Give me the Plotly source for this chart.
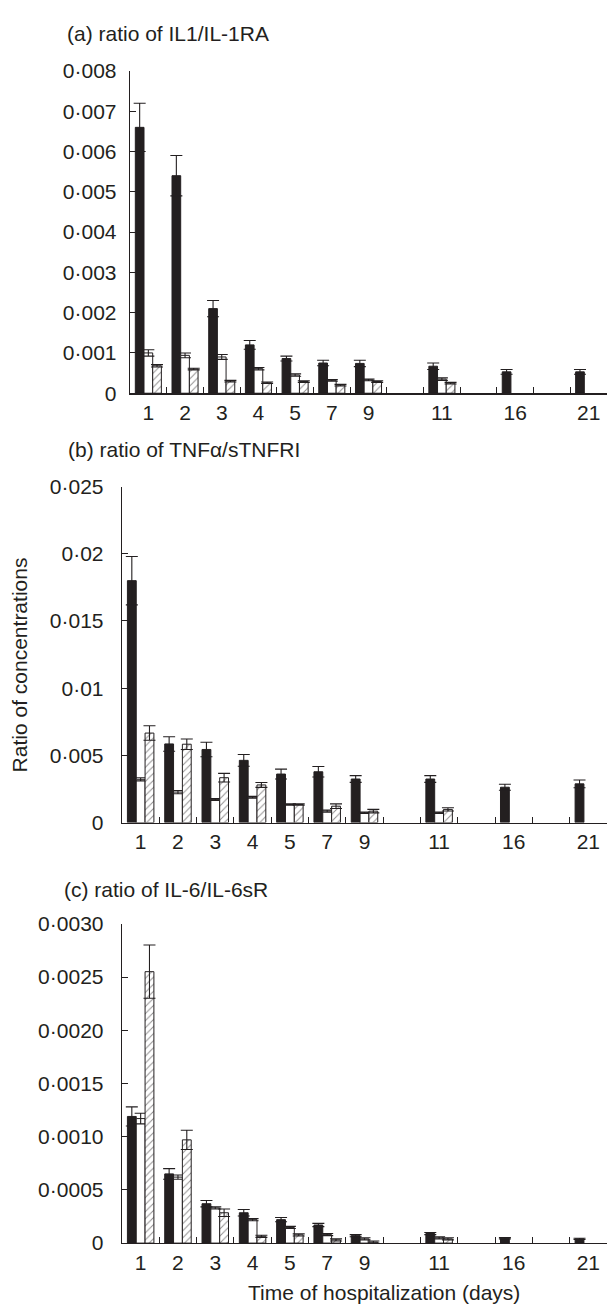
import plotly.graph_objects as go

# ---------------- data ----------------
days = ["1", "2", "3", "4", "5", "7", "9", "11", "16", "21"]
category_order = ["1", "2", "3", "4", "5", "7", "9", " ", "11", "  ", "16", "   ", "21"]

panel_titles = ["(a) ratio of IL1/IL-1RA", "(b) ratio of TNF\u03b1/sTNFRI", "(c) ratio of IL-6/IL-6sR"]

# (a) IL1 / IL-1RA
a_black = [0.0066, 0.0054, 0.0021, 0.0012, 0.00086, 0.00075, 0.00074, 0.00067, 0.00053, 0.00053]
a_black_err = [0.0006, 0.0005, 0.0002, 0.00011, 0.00006, 0.00007, 0.00008, 0.00008, 0.00006, 0.00006]
a_white = [0.0010, 0.00094, 0.00090, 0.00061, 0.00045, 0.00032, 0.00033, 0.00035, None, None]
a_white_err = [0.00008, 0.00006, 0.00006, 0.00003, 0.00003, 0.00002, 0.00002, 0.00003, None, None]
a_hatch = [0.00068, 0.00060, 0.00030, 0.00026, 0.00029, 0.00020, 0.00029, 0.00025, None, None]
a_hatch_err = [0.00003, 0.00002, 0.00002, 0.00002, 0.00002, 0.00002, 0.00002, 0.00002, None, None]

# (b) TNFa / sTNFRI
b_black = [0.0180, 0.00585, 0.00544, 0.00463, 0.00361, 0.00378, 0.00324, 0.00324, 0.00263, 0.00288]
b_black_err = [0.0018, 0.00054, 0.00054, 0.00044, 0.00037, 0.00039, 0.00025, 0.00025, 0.00022, 0.00029]
b_white = [0.00322, 0.00227, 0.00171, 0.00188, 0.00134, 0.00085, 0.00073, 0.00073, None, None]
b_white_err = [0.00012, 0.00012, 0.00007, 0.00007, 0.00005, 0.00008, 0.00005, 0.00005, None, None]
b_hatch = [0.00666, 0.00583, 0.00334, 0.00280, 0.00134, 0.00122, 0.00085, 0.00098, None, None]
b_hatch_err = [0.00054, 0.00039, 0.00032, 0.00018, 0.00005, 0.00017, 0.00013, 0.00012, None, None]

# (c) IL-6 / IL-6sR
c_black = [0.00119, 0.00065, 0.00037, 0.000285, 0.00022, 0.00017, 0.00007, 0.00009, 0.000046, 0.00004]
c_black_err = [0.00009, 0.00005, 0.00003, 0.00003, 0.00002, 0.000015, 0.00001, 0.00001, 0.000006, 0.000006]
c_white = [0.00117, 0.00062, 0.00033, 0.00022, 0.000147, 0.00008, 0.00004, 0.00005, None, None]
c_white_err = [0.00005, 0.00002, 0.00001, 0.00001, 0.00001, 0.00001, 0.00001, 0.00001, None, None]
c_hatch = [0.00255, 0.00097, 0.000285, 0.000064, 0.000077, 0.00003, 0.00001, 0.00004, None, None]
c_hatch_err = [0.00025, 0.00009, 0.000035, 0.00001, 0.00001, 0.00001, 0.00001, 0.00001, None, None]

a_ticks = [0, 0.001, 0.002, 0.003, 0.004, 0.005, 0.006, 0.007, 0.008]
a_ticktext = ["0", "0\u00b7001", "0\u00b7002", "0\u00b7003", "0\u00b7004", "0\u00b7005", "0\u00b7006", "0\u00b7007", "0\u00b7008"]
b_ticks = [0, 0.005, 0.01, 0.015, 0.02, 0.025]
b_ticktext = ["0", "0\u00b7005", "0\u00b701", "0\u00b7015", "0\u00b702", "0\u00b7025"]
c_ticks = [0, 0.0005, 0.0010, 0.0015, 0.0020, 0.0025, 0.0030]
c_ticktext = ["0", "0\u00b70005", "0\u00b70010", "0\u00b70015", "0\u00b70020", "0\u00b70025", "0\u00b70030"]

y_title = "Ratio of concentrations"
x_title = "Time of hospitalization (days)"

# ---------------- styling ----------------
W, H = 607, 1316
INK = "#231f20"
FONT = "Liberation Sans, Arial, Helvetica, sans-serif"
FS = 21

def px_x(p):
    return p / W

def px_y(p):
    return 1 - p / H

panels = [
    dict(black=a_black, black_err=a_black_err, white=a_white, white_err=a_white_err,
         hatch=a_hatch, hatch_err=a_hatch_err, ticks=a_ticks, ticktext=a_ticktext,
         yrange=[0, 0.008], ytop=60, ybot=388, xleft=130, standoff=8),
    dict(black=b_black, black_err=b_black_err, white=b_white, white_err=b_white_err,
         hatch=b_hatch, hatch_err=b_hatch_err, ticks=b_ticks, ticktext=b_ticktext,
         yrange=[0, 0.025], ytop=483, ybot=825, xleft=122, standoff=13),
    dict(black=c_black, black_err=c_black_err, white=c_white, white_err=c_white_err,
         hatch=c_hatch, hatch_err=c_hatch_err, ticks=c_ticks, ticktext=c_ticktext,
         yrange=[0, 0.0030], ytop=928, ybot=1253, xleft=122, standoff=13),
]

fig = go.Figure()

def err(arr):
    return dict(type="data", array=arr, visible=True, color=INK, thickness=1.1, width=6)

for i, p in enumerate(panels):
    n = "" if i == 0 else str(i + 1)
    xa, ya = "x" + n, "y" + n
    fig.add_trace(go.Bar(x=days, y=p["black"], error_y=err(p["black_err"]),
                         marker=dict(color=INK, line=dict(color=INK, width=1)),
                         xaxis=xa, yaxis=ya, showlegend=False))
    fig.add_trace(go.Bar(x=days, y=p["white"], error_y=err(p["white_err"]),
                         marker=dict(color="white", line=dict(color=INK, width=1)),
                         xaxis=xa, yaxis=ya, showlegend=False))
    fig.add_trace(go.Bar(x=days, y=p["hatch"], error_y=err(p["hatch_err"]),
                         marker=dict(color="white", line=dict(color=INK, width=1),
                                     pattern=dict(shape="/", fgcolor=INK, bgcolor="white",
                                                  size=5, solidity=0.2)),
                         xaxis=xa, yaxis=ya, showlegend=False))

    xaxis = dict(domain=[px_x(p["xleft"]), 1.0], anchor=ya, type="category",
                 categoryorder="array", categoryarray=category_order,
                 range=[-0.5, len(category_order) - 0.5],
                 showline=True, linecolor=INK, linewidth=1.3,
                 ticks="inside", ticklen=6, tickwidth=1, tickcolor=INK, tickson="boundaries",
                 tickfont=dict(family=FONT, size=FS, color=INK),
                 showgrid=False, zeroline=False, fixedrange=True)
    yaxis = dict(domain=[px_y(p["ybot"]), px_y(p["ytop"])], anchor=xa,
                 range=p["yrange"], tickmode="array", tickvals=p["ticks"], ticktext=p["ticktext"],
                 showline=True, linecolor=INK, linewidth=1.3,
                 ticks="inside", ticklen=6, tickwidth=1, tickcolor=INK,
                 ticklabelstandoff=p["standoff"],
                 tickfont=dict(family=FONT, size=FS, color=INK),
                 showgrid=False, zeroline=False, fixedrange=True)
    fig.update_layout({"xaxis" + n: xaxis, "yaxis" + n: yaxis})

annotations = [
    dict(text=panel_titles[0], x=px_x(65), y=px_y(22), xref="paper", yref="paper",
         xanchor="left", yanchor="middle", showarrow=False),
    dict(text=panel_titles[1], x=px_x(66), y=px_y(445), xref="paper", yref="paper",
         xanchor="left", yanchor="middle", showarrow=False),
    dict(text=panel_titles[2], x=px_x(62), y=px_y(893), xref="paper", yref="paper",
         xanchor="left", yanchor="middle", showarrow=False),
    dict(text=y_title, x=px_x(19), y=px_y(665), xref="paper", yref="paper",
         xanchor="center", yanchor="middle", textangle=-90, showarrow=False),
    dict(text=x_title, x=px_x(384), y=px_y(1303), xref="paper", yref="paper",
         xanchor="center", yanchor="middle", showarrow=False),
]
for a in annotations:
    a["font"] = dict(family=FONT, size=FS, color=INK)

fig.update_layout(
    width=W, height=H,
    margin=dict(l=0, r=0, t=0, b=0),
    paper_bgcolor="white", plot_bgcolor="white",
    barmode="group", bargap=0.29, bargroupgap=0,
    annotations=annotations,
    font=dict(family=FONT, size=FS, color=INK),
)

# remove the browser's default 8px body margin so the figure sits at the page origin
fig.write_html("out.html", config={"displayModeBar": False, "staticPlot": True},
               post_script="document.body.style.margin='0px';")
